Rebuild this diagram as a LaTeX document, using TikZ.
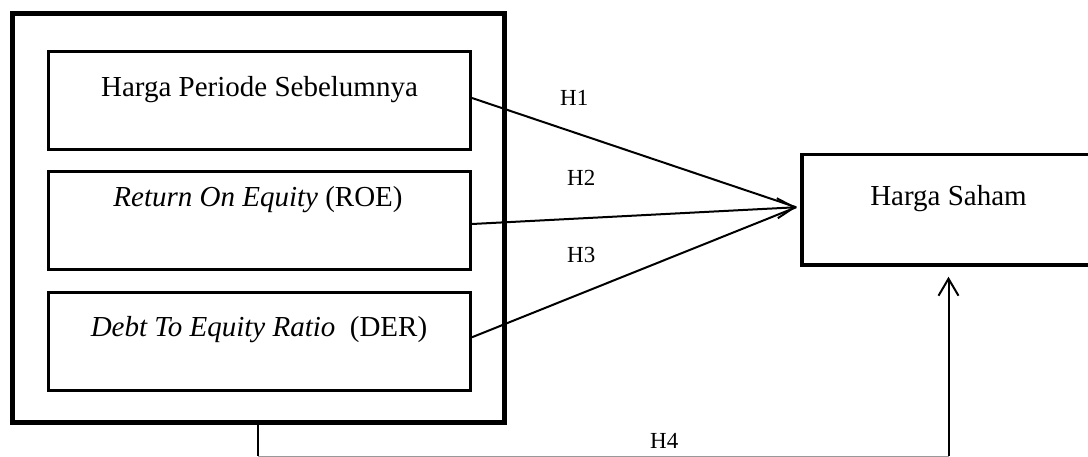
\documentclass[tikz,border=0pt]{standalone}
\usepackage{fontspec}
\setmainfont{Liberation Serif}
\usetikzlibrary{arrows.meta}
\begin{document}
\begin{tikzpicture}[x=1pt,y=-1pt,
  boxstyle/.style={draw, rectangle, inner sep=0pt, line width=3pt},
  outerstyle/.style={draw, rectangle, inner sep=0pt, line width=5pt},
  maintext/.style={font=\fontsize{29}{34}\selectfont, inner sep=0pt, anchor=base},
  hlabel/.style={font=\fontsize{23}{27}\selectfont, inner sep=0pt, anchor=base west},
  conn/.style={line width=2pt},
  thinconn/.style={line width=1.3pt},
  grayconn/.style={line width=1pt, draw=black!40},
  tipstyle/.style={-{Straight Barb[length=17pt,width=20pt]}}
]
\path[use as bounding box] (0,0) rectangle (1088,457);
\clip (0,0) rectangle (1088,457);

% boxes
\node[outerstyle, minimum width=492pt, minimum height=408.5pt] (outer) at (258,218.25) {};
\node[boxstyle, minimum width=422pt, minimum height=98pt] (b1) at (259.5,101) {};
\node[boxstyle, minimum width=422pt, minimum height=98pt] (b2) at (259.5,220.5) {};
\node[boxstyle, minimum width=422pt, minimum height=97.5pt] (b3) at (259.5,341.25) {};
\node[boxstyle, line width=3.5pt, minimum width=293pt, minimum height=110.5pt] (hs) at (948.5,209.75) {};

% texts
\node[maintext] (t1) at (259.5,97) {Harga Periode Sebelumnya};
\node[maintext] (t2) at (258,207) {\textit{Return On Equity} (ROE)};
\node[maintext] (t3) at (259,337) {\textit{Debt To Equity Ratio}\ \ (DER)};
\node[maintext] (t4) at (948.5,206) {Harga Saham};

% connectors
\coordinate (tip) at ([shift={(-4pt,2.5pt)}]hs.west);
\draw[conn] ([yshift=3pt]b1.east) -- (tip);
\draw[conn, tipstyle] ([yshift=-3.5pt]b2.east) -- (tip);
\draw[conn] ([yshift=4pt]b3.east) -- (tip);

\coordinate (c1) at (258,456);
\coordinate (c2) at (948.5,456);
\draw[thinconn] (outer.south) -- (c1);
\draw[grayconn] (c1) -- (c2);
\draw[conn, tipstyle, shorten >=10pt] (c2) -- (hs.south);

% labels
\node[hlabel] (h1) at (560,106) {H1};
\node[hlabel] (h2) at (567,186) {H2};
\node[hlabel] (h3) at (567,262.5) {H3};
\node[hlabel] (h4) at (650,448) {H4};
\end{tikzpicture}
\end{document}
